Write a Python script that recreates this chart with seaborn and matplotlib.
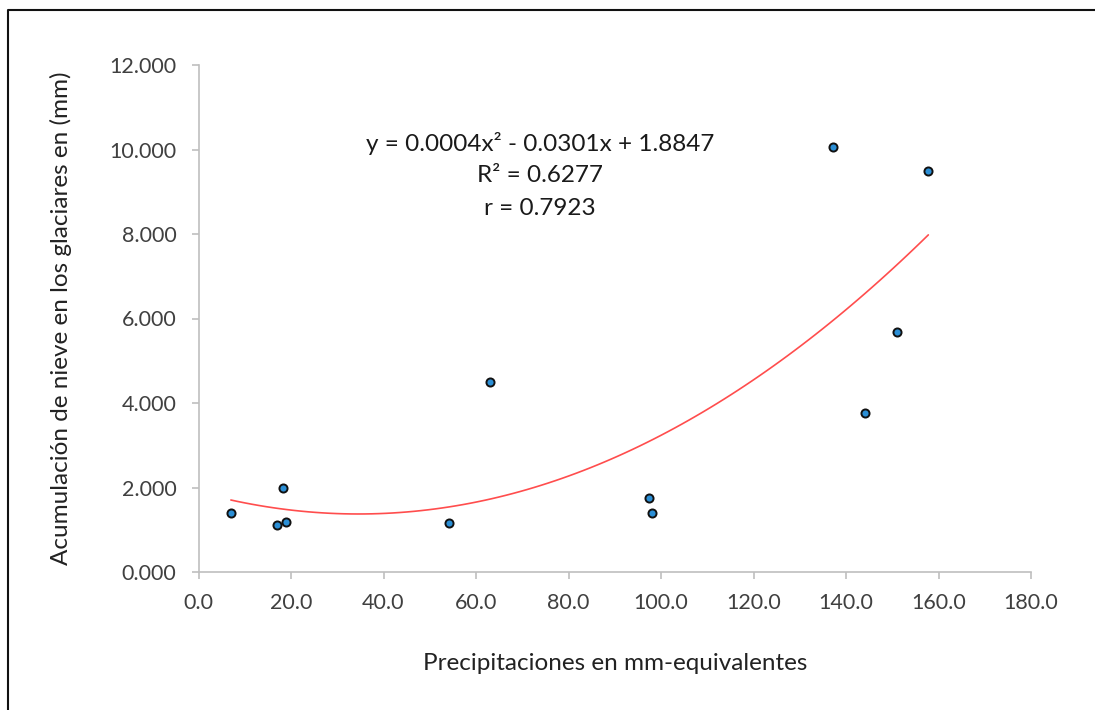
# --- Setup & Imports ---
import numpy as np
import pandas as pd
import matplotlib
matplotlib.use('Agg')
import matplotlib.pyplot as plt
from matplotlib.lines import Line2D
import seaborn as sns

# Data
precip_mm = [7.0, 17.0, 18.3, 18.9, 54.2, 63.0, 97.3, 98.0, 137.1, 144.1, 151.0, 157.8]
snow_mm = [1.40, 1.11, 1.99, 1.18, 1.15, 4.50, 1.75, 1.39, 10.05, 3.76, 5.67, 9.49]

x_ticks = np.arange(0, 181, 20)
y_ticks = np.arange(0, 12.1, 2)

eq_lines = ['y = 0.0004x\u00b2 - 0.0301x + 1.8847', 'R\u00b2 = 0.6277', 'r = 0.7923']

df = pd.DataFrame({'Precip': precip_mm, 'Snow': snow_mm})

sns.set_style('white')
plt.rcParams['font.family'] = ['Lato', 'DejaVu Sans']

fig = plt.figure(figsize=(10.95, 7.10), dpi=100)
ax = fig.add_axes([198.5 / 1095, 1 - 572 / 710, (1031 - 198.5) / 1095, (572 - 65) / 710])

# Quadratic trend line (like Excel's polynomial trendline)
sns.regplot(data=df, x='Precip', y='Snow', order=2, ci=None, scatter=False,
            truncate=True, ax=ax, line_kws={'color': '#ff4d4d', 'lw': 1.2})

# Data points
sns.scatterplot(data=df, x='Precip', y='Snow', ax=ax, s=34, color='#2b8fd6',
                edgecolor='#111111', linewidth=1.4, zorder=3)

ax.set_xlim(0, 180)
ax.set_ylim(0, 12)
ax.set_xticks(x_ticks)
ax.set_yticks(y_ticks)
ax.set_xticklabels([f'{v:.1f}' for v in x_ticks])
ax.set_yticklabels([f'{v:.3f}' for v in y_ticks])

for side in ['top', 'right']:
    ax.spines[side].set_visible(False)
for side in ['left', 'bottom']:
    ax.spines[side].set_color('#bfbfbf')
    ax.spines[side].set_linewidth(1.2)

ax.tick_params(axis='both', which='major', direction='out', length=5, width=1.2,
               color='#bfbfbf', labelcolor='#404040', labelsize=15.5,
               bottom=True, left=True)
ax.tick_params(axis='x', pad=10)
ax.tick_params(axis='y', pad=11)

ax.set_xlabel('Precipitaciones en mm-equivalentes', fontsize=17.5, color='#222222', labelpad=29)
ax.set_ylabel('Acumulaci\u00f3n de nieve en los glaciares en (mm)', fontsize=17.5,
              color='#222222', labelpad=27)

# Equation annotation
for i, line in enumerate(eq_lines):
    ax.text(73.8, 10.15 - i * 0.77, line, ha='center', va='center',
            fontsize=17.5, color='#1a1a1a')

# Frame around the figure (left and top edges visible in the reference)
fig.add_artist(Line2D([8 / 1095, 8 / 1095, 1.0], [0.0, 1 - 10 / 710, 1 - 10 / 710],
                      transform=fig.transFigure, color='#111111', lw=1.5))

fig.savefig('out.png', dpi=100, facecolor='white')
